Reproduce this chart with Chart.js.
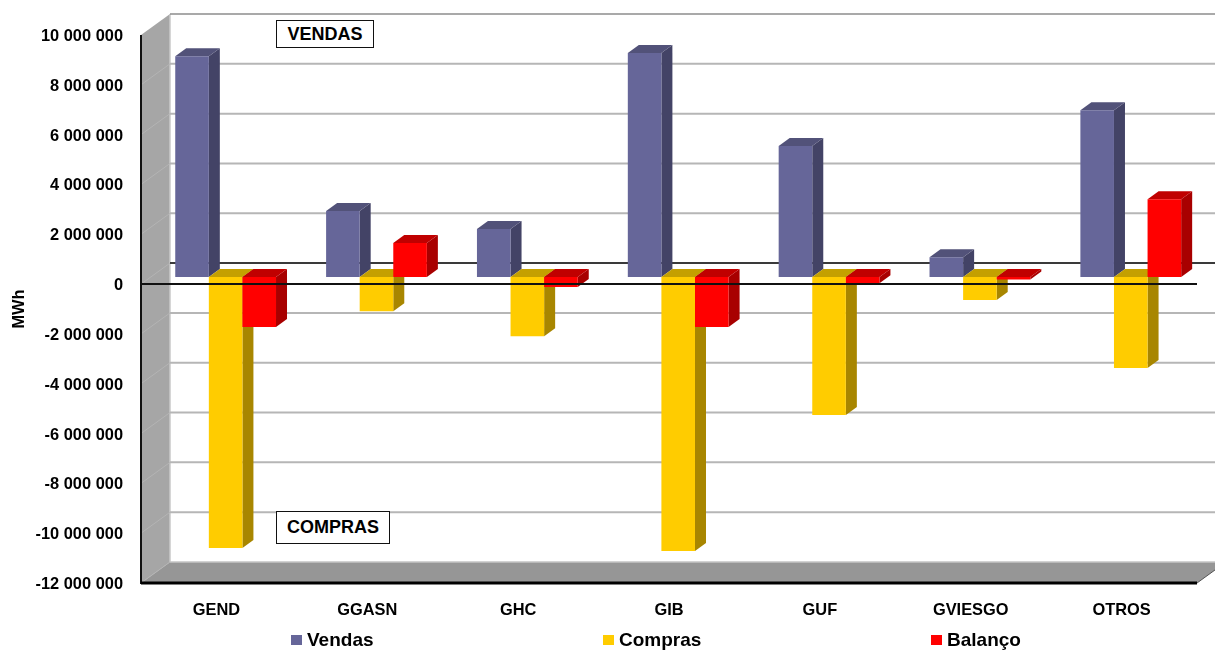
<!DOCTYPE html>
<html>
<head>
<meta charset="utf-8">
<title>Vendas e Compras</title>
<script src="https://cdn.jsdelivr.net/npm/chart.js@4"></script>
<style>
  html, body { margin: 0; padding: 0; background: #fff; overflow: hidden; }
  body { width: 1215px; height: 652px; position: relative; font-family: "Liberation Sans", Arial, sans-serif; font-weight: bold; color: #000; }
  canvas { position: absolute; left: 0; top: 0; }
  .tag { position: absolute; box-sizing: border-box; border: 1.5px solid #111; background: #fff; font-size: 18px; display: flex; align-items: center; justify-content: center; }
  .legend-item { position: absolute; top: 629px; font-size: 19px; line-height: 22px; white-space: nowrap; }
  .legend-sq { position: absolute; left: 0; top: 6px; width: 11px; height: 10px; }
  .legend-item span { margin-left: 16px; }
</style>
</head>
<body>
<canvas id="chart" width="1215" height="652"></canvas>
<div class="tag" style="left:276px;top:20px;width:98px;height:28px">VENDAS</div>
<div class="tag" style="left:276px;top:511px;width:114px;height:33px">COMPRAS</div>
<div id="legend"></div>
<script>
const categories = ["GEND", "GGASN", "GHC", "GIB", "GUF", "GVIESGO", "OTROS"];
const vendas  = [8870000, 2650000, 1930000, 9000000, 5260000, 800000, 6700000];
const compras = [-10880000, -1370000, -2370000, -11000000, -5540000, -920000, -3650000];
const balanco = [-2000000, 1370000, -400000, -2000000, -250000, -100000, 3130000];
const yTicks  = [10, 8, 6, 4, 2, 0, -2, -4, -6, -8, -10, -12];
const legendX = [291, 603, 931];

// front face, side face, top face
const VENDAS_COLS  = ["#666699", "#434366", "#525279"];
const COMPRAS_COLS = ["#ffcc00", "#a88600", "#c4a000"];
const BALANCO_COLS = ["#ff0000", "#a80000", "#c00000"];

// offsets of the fake 3d box
const WALL_DX = 29, WALL_DY = 21;
const BAR_X = 9.2, BAR_Y = 7;
const BAR_DX = 11, BAR_DY = 8;

const fmtTick = (v) => {
  const n = Math.abs(v);
  if (n === 0) return "0";
  const s = String(n).replace(/\B(?=(\d{3})+$)/g, " ");
  return (v < 0 ? "-" : "") + s;
};

function poly(ctx, pts, fill) {
  ctx.beginPath();
  pts.forEach((p, i) => (i ? ctx.lineTo(p[0], p[1]) : ctx.moveTo(p[0], p[1])));
  ctx.closePath();
  ctx.fillStyle = fill;
  ctx.fill();
}

function hline(ctx, x1, y1, x2, y2, col, w) {
  ctx.beginPath();
  ctx.moveTo(x1, y1);
  ctx.lineTo(x2, y2);
  ctx.strokeStyle = col;
  ctx.lineWidth = w;
  ctx.stroke();
}

const box3d = {
  id: "box3d",
  beforeDatasetsDraw(chart) {
    const { ctx, chartArea: a, scales: { y } } = chart;
    const dx = WALL_DX, dy = WALL_DY;
    ctx.save();
    poly(ctx, [[a.left, a.top], [a.left + dx, a.top - dy], [a.left + dx, a.bottom - dy], [a.left, a.bottom]], "#a6a6a6");
    poly(ctx, [[a.left, a.bottom], [a.left + dx, a.bottom - dy], [a.right + dx, a.bottom - dy], [a.right, a.bottom]], "#969696");
    hline(ctx, a.left + dx, a.top - dy, a.left + dx, a.bottom - dy, "#c8c8c8", 1.5);
    hline(ctx, a.left, a.bottom, a.left + dx, a.bottom - dy, "#b4b4b4", 1);
    hline(ctx, a.left + dx, a.bottom - dy, a.right + dx, a.bottom - dy, "#c4c4c4", 1.5);
    yTicks.forEach((t) => {
      const py = y.getPixelForValue(t * 1000000);
      if (t === -12) return;
      const col = t === 10 ? "#8c8c8c" : "#b6b6b6";
      if (t !== 10) hline(ctx, a.left, py, a.left + dx, py - dy, "#b4b4b4", 1);
      hline(ctx, a.left + dx, py - dy, a.right + dx, py - dy, col, t === 10 ? 1.5 : 2);
    });
    // zero line on the back wall
    const zero = y.getPixelForValue(0);
    hline(ctx, a.left + dx, zero - dy, a.right + dx, zero - dy, "#111", 1.5);
    ctx.restore();
  },
  // chart.js paints the leftmost series last, here it has to be the other way round
  beforeDatasetDraw() {
    return false;
  },
  afterDatasetsDraw(chart) {
    const { ctx, chartArea: a, scales: { y } } = chart;
    chart.data.datasets.forEach((ds, i) => {
      const meta = chart.getDatasetMeta(i);
      ctx.save();
      ctx.translate(BAR_X, -BAR_Y);
      meta.data.forEach((bar) => {
        const l = bar.x - bar.width / 2, r = bar.x + bar.width / 2;
        const top = Math.min(bar.y, bar.base), bot = Math.max(bar.y, bar.base);
        poly(ctx, [[r, top], [r + BAR_DX, top - BAR_DY], [r + BAR_DX, bot - BAR_DY], [r, bot]], ds.faceColors[1]);
        poly(ctx, [[l, top], [l + BAR_DX, top - BAR_DY], [r + BAR_DX, top - BAR_DY], [r, top]], ds.faceColors[2]);
      });
      meta.controller.draw();
      ctx.restore();
    });
    const zero = y.getPixelForValue(0);
    ctx.save();
    hline(ctx, a.left, zero, a.right, zero, "#111", 2);
    hline(ctx, a.left, a.top, a.left, a.bottom + 1, "#111", 2);
    hline(ctx, a.left, a.bottom, a.right, a.bottom, "#000", 3);
    hline(ctx, a.right, a.bottom, a.right + WALL_DX, a.bottom - WALL_DY, "#555", 1);
    ctx.restore();
  },
};

const tickFont = { family: "'Liberation Sans', Arial, sans-serif", size: 16.4, weight: "bold" };

new Chart(document.getElementById("chart"), {
  type: "bar",
  plugins: [box3d],
  data: {
    labels: categories,
    datasets: [
      { label: "Vendas",  data: vendas,  backgroundColor: VENDAS_COLS[0],  faceColors: VENDAS_COLS },
      { label: "Compras", data: compras, backgroundColor: COMPRAS_COLS[0], faceColors: COMPRAS_COLS },
      { label: "Balanço", data: balanco, backgroundColor: BALANCO_COLS[0], faceColors: BALANCO_COLS },
    ],
  },
  options: {
    responsive: false,
    animation: false,
    layout: { padding: { top: 35, right: 18, left: 0, bottom: 0 } },
    datasets: { bar: { barPercentage: 1, categoryPercentage: 0.668, borderWidth: 0 } },
    plugins: { legend: { display: false }, tooltip: { enabled: false } },
    scales: {
      x: {
        grid: { display: false, drawTicks: false },
        border: { display: false },
        ticks: { color: "#000", font: tickFont, padding: 18, maxRotation: 0 },
        afterFit: (s) => { s.height = 69; },
      },
      y: {
        min: -12000000,
        max: 10000000,
        afterBuildTicks: (s) => { s.ticks = yTicks.map((t) => ({ value: t * 1000000 })); },
        grid: { display: false, drawTicks: false },
        border: { display: false },
        ticks: { color: "#000", font: tickFont, padding: 18, labelOffset: 1.5, callback: fmtTick },
        title: { display: true, text: "MWh", color: "#000", font: tickFont, padding: { top: 10, bottom: 0 } },
        afterFit: (s) => { s.width = 141; },
      },
    },
  },
});

// legend sits outside the chart box, wide apart like the original
const names = ["Vendas", "Compras", "Balanço"];
const swatches = [VENDAS_COLS[0], COMPRAS_COLS[0], BALANCO_COLS[0]];
document.getElementById("legend").innerHTML = names.map((n, i) =>
  `<div class="legend-item" style="left:${legendX[i]}px"><div class="legend-sq" style="background:${swatches[i]}"></div><span>${n}</span></div>`
).join("");
</script>
</body>
</html>
